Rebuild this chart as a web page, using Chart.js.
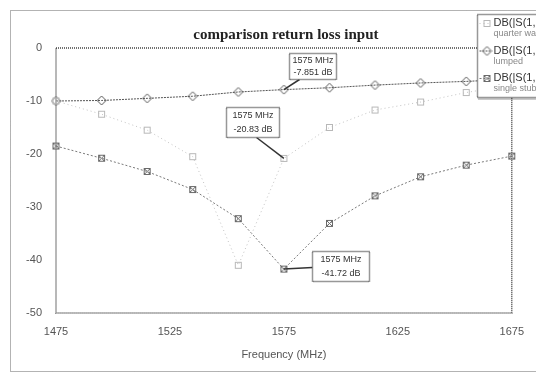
<!DOCTYPE html>
<html>
<head>
<meta charset="utf-8">
<script src="https://cdn.jsdelivr.net/npm/chart.js@4.4.1/dist/chart.umd.min.js"></script>
<style>
html, body { margin: 0; padding: 0; background: #fff; overflow: hidden; }
</style>
</head>
<body>
<canvas id="returnLossChart" width="536" height="374"></canvas>
<script>
// values (dB)
var freqs = [1475, 1495, 1515, 1535, 1555, 1575, 1595, 1615, 1635, 1655, 1675];
var quarterWave = [-10, -12.5, -15.5, -20.5, -41, -20.83, -15, -11.7, -10.2, -8.4, -7];
var lumped = [-10, -9.9, -9.5, -9.1, -8.3, -7.851, -7.5, -7.0, -6.6, -6.3, -5.9];
var singleStub = [-18.5, -20.8, -23.3, -26.7, -32.2, -41.72, -33.1, -27.9, -24.3, -22.1, -20.4];
var xTicks = [1475, 1525, 1575, 1625, 1675];
var seriesNames = [
  ["DB(|S(1,1)|)", "quarter wave"],
  ["DB(|S(1,1)|)", "lumped"],
  ["DB(|S(1,1)|)", "single stub"]
];
var chartTitle = "comparison return loss input";
var xTitle = "Frequency (MHz)";
// marker readouts: series index, frequency, text
var readouts = [
  { series: 1, freq: 1575, text: ["1575 MHz", "-7.851 dB"] },
  { series: 0, freq: 1575, text: ["1575 MHz", "-20.83 dB"] },
  { series: 2, freq: 1575, text: ["1575 MHz", "-41.72 dB"] }
];
// where each readout box sits relative to its point (px)
var readoutBoxes = [
  { dx: 5, dy: -37, w: 47, h: 26, ax: 10, ay: 26 },
  { dx: -58, dy: -51, w: 53, h: 30, ax: 30, ay: 30 },
  { dx: 28, dy: -18, w: 57, h: 30, ax: 0, ay: 16 }
];

function makeMarker(kind, color) {
  var c = document.createElement('canvas');
  c.width = 11; c.height = 11;
  var g = c.getContext('2d');
  g.strokeStyle = color;
  g.lineWidth = 1;
  if (kind === 'square' || kind === 'xsquare') {
    g.strokeRect(2.5, 2.5, 6, 6);
  }
  if (kind === 'xsquare') {
    g.beginPath();
    g.moveTo(2.5, 2.5); g.lineTo(8.5, 8.5);
    g.moveTo(8.5, 2.5); g.lineTo(2.5, 8.5);
    g.stroke();
  }
  if (kind === 'diamond') {
    g.beginPath();
    g.moveTo(5.5, 1); g.lineTo(10, 5.5); g.lineTo(5.5, 10); g.lineTo(1, 5.5);
    g.closePath();
    g.stroke();
  }
  return c;
}

var seriesColors = ['#c4c4c4', '#555555', '#7a7a7a'];
var seriesDash = [[1, 3], [2, 1], [2, 2]];
var seriesMarkers = [
  makeMarker('square', '#b8b8b8'),
  makeMarker('diamond', '#555555'),
  makeMarker('xsquare', '#6a6a6a')
];

function toPoints(values) {
  return values.map(function (v, i) { return { x: freqs[i], y: v }; });
}

var framePlugin = {
  id: 'frame',
  beforeDraw: function (chart) {
    var ctx = chart.ctx, a = chart.chartArea;
    ctx.save();
    ctx.fillStyle = '#fff';
    ctx.fillRect(0, 0, chart.width, chart.height);
    ctx.strokeStyle = '#666';
    ctx.lineWidth = 1;
    ctx.setLineDash([1, 1]);
    ctx.strokeRect(10.5, 10.5, 545, 361);
    ctx.lineWidth = 1.5;
    ctx.strokeStyle = '#444';
    ctx.strokeRect(a.left, a.top, a.right - a.left, a.bottom - a.top);
    ctx.setLineDash([]);
    ctx.fillStyle = '#222';
    ctx.font = 'bold 15px "Liberation Serif"';
    ctx.textAlign = 'center';
    ctx.textBaseline = 'alphabetic';
    ctx.fillText(chartTitle, (a.left + a.right) / 2 + 2, 39);
    ctx.restore();
  }
};

var readoutPlugin = {
  id: 'readouts',
  afterDatasetsDraw: function (chart) {
    var ctx = chart.ctx;
    var xs = chart.scales.x, ys = chart.scales.y;
    var sets = [quarterWave, lumped, singleStub];
    ctx.save();
    readouts.forEach(function (r, i) {
      var b = readoutBoxes[i];
      var idx = freqs.indexOf(r.freq);
      var px = xs.getPixelForValue(r.freq);
      var py = ys.getPixelForValue(sets[r.series][idx]);
      var bx = Math.round(px + b.dx) + 0.5, by = Math.round(py + b.dy) + 0.5;
      ctx.setLineDash([]);
      ctx.strokeStyle = '#333';
      ctx.lineWidth = 1.5;
      ctx.beginPath();
      ctx.moveTo(bx + b.ax, by + b.ay);
      ctx.lineTo(px, py);
      ctx.stroke();
      ctx.fillStyle = '#fff';
      ctx.fillRect(bx, by, b.w, b.h);
      ctx.strokeStyle = '#333';
      ctx.lineWidth = 1.5;
      ctx.setLineDash([1, 1]);
      ctx.strokeRect(bx, by, b.w, b.h);
      ctx.setLineDash([]);
      ctx.fillStyle = '#333';
      ctx.font = '9px "Liberation Sans"';
      ctx.textAlign = 'center';
      ctx.textBaseline = 'middle';
      ctx.fillText(r.text[0], bx + b.w / 2, by + b.h * 0.28);
      ctx.fillText(r.text[1], bx + b.w / 2, by + b.h * 0.72);
    });
    ctx.restore();
  }
};

var legendPlugin = {
  id: 'boxLegend',
  afterDraw: function (chart) {
    var ctx = chart.ctx;
    var left = 477.5, top = 14.5, rowY = [23, 50.5, 78];
    ctx.save();
    ctx.fillStyle = '#fff';
    ctx.fillRect(left, top, 80, 83);
    ctx.strokeStyle = '#333';
    ctx.lineWidth = 1.5;
    ctx.setLineDash([1, 1]);
    ctx.strokeRect(left, top, 80, 83);
    ctx.lineWidth = 1;
    ctx.beginPath();
    ctx.moveTo(left + 1, top + 84.5);
    ctx.lineTo(left + 80, top + 84.5);
    ctx.stroke();
    seriesNames.forEach(function (name, i) {
      var y = rowY[i];
      ctx.strokeStyle = seriesColors[i];
      ctx.lineWidth = 1;
      ctx.setLineDash(seriesDash[i]);
      ctx.beginPath();
      ctx.moveTo(left + 2, y + 0.5);
      ctx.lineTo(left + 13, y + 0.5);
      ctx.stroke();
      ctx.setLineDash([]);
      ctx.drawImage(seriesMarkers[i], left + 4, y - 5);
      ctx.textAlign = 'left';
      ctx.textBaseline = 'middle';
      ctx.fillStyle = '#333';
      ctx.font = '11px "Liberation Sans"';
      ctx.fillText(name[0], left + 16, y);
      ctx.fillStyle = '#888';
      ctx.font = '9px "Liberation Sans"';
      ctx.fillText(name[1], left + 16, y + 11);
    });
    ctx.restore();
  }
};

function makeSet(i, values) {
  return {
    label: seriesNames[i].join(' '),
    data: toPoints(values),
    borderColor: seriesColors[i],
    borderWidth: 1,
    borderDash: seriesDash[i],
    pointStyle: seriesMarkers[i],
    pointRadius: 5,
    fill: false,
    tension: 0,
    clip: false
  };
}

var tickFont = { family: '"Liberation Sans"', size: 11 };

new Chart(document.getElementById('returnLossChart').getContext('2d'), {
  type: 'line',
  data: {
    datasets: [
      makeSet(0, quarterWave),
      makeSet(1, lumped),
      makeSet(2, singleStub)
    ]
  },
  options: {
    responsive: false,
    animation: false,
    devicePixelRatio: 1,
    layout: { padding: { top: 48, right: 21, bottom: 0, left: 0 } },
    plugins: {
      legend: { display: false },
      tooltip: { enabled: false },
      title: { display: false }
    },
    scales: {
      x: {
        type: 'linear',
        min: 1475,
        max: 1675,
        grid: { display: false, drawTicks: false },
        border: { display: false },
        afterBuildTicks: function (s) {
          s.ticks = xTicks.map(function (v) { return { value: v }; });
        },
        afterFit: function (s) { s.height = 61; },
        ticks: {
          color: '#555', font: tickFont, padding: 12, maxRotation: 0,
          callback: function (v) { return String(v); }
        },
        title: { display: true, text: xTitle, color: '#555', font: tickFont, padding: { top: 4, bottom: 12 } }
      },
      y: {
        min: -50,
        max: 0,
        grid: { display: false, drawTicks: false },
        border: { display: false },
        afterFit: function (s) { s.width = 56; },
        ticks: { stepSize: 10, color: '#555', font: tickFont, padding: 14 }
      }
    }
  },
  plugins: [framePlugin, readoutPlugin, legendPlugin]
});
</script>
</body>
</html>
